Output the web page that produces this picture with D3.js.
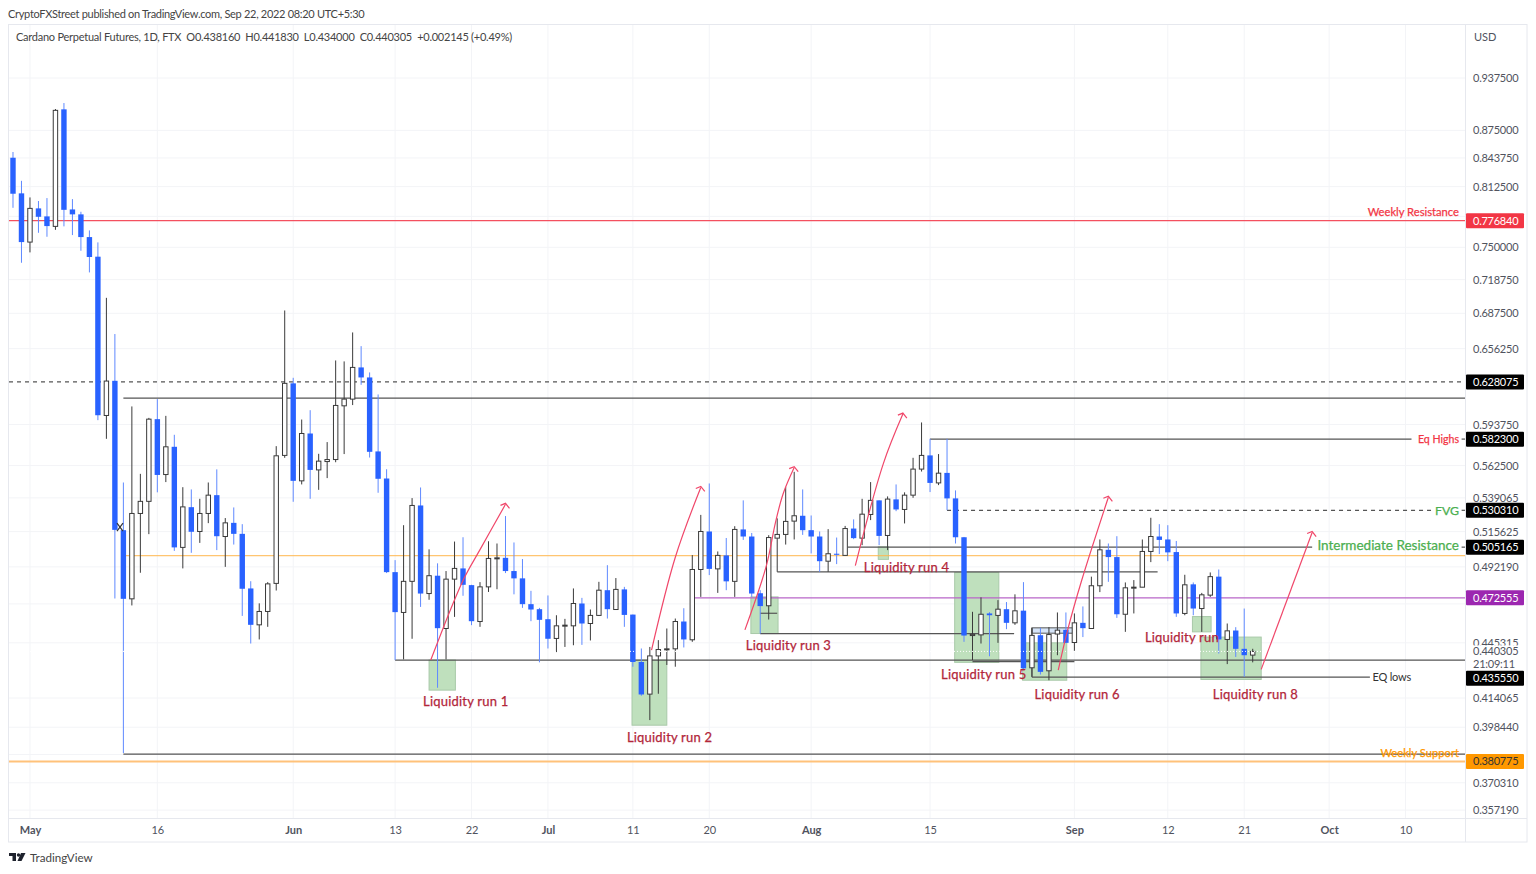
<!DOCTYPE html>
<html>
<head>
<meta charset="utf-8">
<style>
  html, body { margin: 0; padding: 0; background: #fff; }
  svg { display: block; font-family: Lato, "Open Sans", sans-serif; }
</style>
</head>
<body>
<svg width="1536" height="874"></svg>
<script src="https://cdn.jsdelivr.net/npm/d3@7"></script>
<script>
// daily candles, Apr 29 .. Sep 22 2022
const opens = [
  .8440,.8053,.7552,.7895,.7812,.7710,.8996,.7884,.7833,.7602,
  .7408,.6009,.6290,.5166,.4719,.5281,.5366,.5980,.5559,.5766,
  .5050,.5325,.5157,.5281,.5410,.5123,.5216,.5141,.4784,.4560,
  .4641,.4816,.5701,.6269,.5513,.5868,.5593,.5655,.5670,.6086,
  .6140,.6402,.6318,.5731,.5530,.4888,.4635,.4829,.5337,.4752,
  .4865,.4538,.4843,.4912,.4805,.4580,.4794,.4977,.4981,.4895,
  .4848,.4686,.4655,.4594,.4479,.4554,.4554,.4690,.4568,.4617,
  .4773,.4653,.4778,.4622,.4342,.4162,.4377,.4414,.4418,.4580,
  .4471,.4905,.5157,.4909,.4997,.4829,.5171,.5123,.4754,.4676,
  .5112,.5137,.5228,.5265,.5166,.5123,.4959,.5008,.4997,.5177,
  .5112,.5274,.5373,.5130,.5380,.5309,.5410,.5599,.5701,.5498,
  .5571,.5387,.5118,.4496,.4500,.4629,.4617,.4655,.4572,.4646,
  .4309,.4498,.4292,.4505,.4530,.4455,.4572,.4538,.4801,.5034,
  .4986,.4624,.4788,.4792,.5023,.5123,.5103,.5019,.4629,.4810,
  .4659,.4742,.4859,.4473,.4526,.4418,.43816
];
const highs = [
  .8504,.8187,.8010,.7972,.8003,.9000,.9071,.7992,.7860,.7669,
  .7549,.7017,.6690,.5501,.6081,.5564,.5990,.6140,.6006,.5858,
  .5467,.5451,.5384,.5501,.5597,.5249,.5323,.5207,.4830,.4691,
  .4824,.5771,.6901,.6315,.5977,.6051,.5713,.5802,.6461,.6453,
  .6704,.6584,.6360,.6178,.5598,.4966,.5200,.5389,.5465,.5037,
  .4945,.4895,.5089,.5118,.4807,.4824,.5091,.5076,.5263,.5083,
  .4973,.4769,.4663,.4740,.4618,.4596,.4784,.4725,.4653,.4826,
  .4933,.4850,.4794,.4622,.4420,.4429,.4469,.4538,.4598,.4661,
  .4999,.5271,.5494,.5023,.5113,.5193,.5373,.5147,.4773,.5132,
  .5247,.5469,.5579,.5451,.5267,.5157,.5173,.5116,.5195,.5240,
  .5384,.5504,.5373,.5401,.5487,.5430,.5683,.5954,.5827,.5711,
  .5827,.5444,.5120,.4639,.4728,.4637,.4711,.4699,.4747,.4824,
  .4540,.4542,.4546,.4635,.4635,.4629,.4672,.4859,.5103,.5076,
  .5125,.4822,.4837,.5103,.5251,.5207,.5200,.5093,.4871,.4822,
  .4756,.4886,.4905,.4568,.4546,.4659,.44183
];
const lows = [
  .7901,.7349,.7450,.7645,.7605,.7675,.7710,.7622,.7466,.7256,
  .5972,.5827,.4721,.3851,.4678,.4884,.5139,.5430,.5504,.5027,
  .4912,.5014,.5080,.5214,.5032,.4922,.5069,.4614,.4449,.4473,
  .4548,.4771,.5683,.5363,.5487,.5384,.5448,.5533,.5650,.5711,
  .6092,.6257,.5685,.5427,.4882,.4353,.4357,.4477,.4669,.4713,
  .4197,.4357,.4608,.4738,.4558,.4548,.4762,.4779,.4882,.4747,
  .4663,.4582,.4340,.4420,.4399,.4429,.4439,.4441,.4467,.4614,
  .4598,.4650,.4548,.4315,.4153,.4022,.4164,.4325,.4315,.4426,
  .4459,.4731,.4869,.4756,.4773,.4731,.5100,.4731,.4508,.4592,
  .4890,.5069,.5103,.5134,.5010,.4890,.4890,.4940,.4997,.5105,
  .5065,.5235,.5065,.5032,.5297,.5212,.5391,.5581,.5432,.5482,
  .5304,.5076,.4459,.4353,.4449,.4375,.4453,.4534,.4560,.4296,
  .4258,.4271,.4239,.4381,.4453,.4406,.4487,.4538,.4761,.4826,
  .4602,.4518,.4629,.4792,.4953,.5006,.4959,.4608,.4618,.4618,
  .4518,.4731,.4391,.4330,.4371,.4258,.4340
];
const closes = [
  .8049,.7552,.7895,.7808,.7713,.8984,.7880,.7833,.7602,.7405,
  .6011,.6288,.5168,.4719,.5281,.5366,.5980,.5556,.5766,.5050,
  .5327,.5155,.5281,.5410,.5125,.5216,.5141,.4782,.4560,.4641,
  .4813,.5698,.6269,.5513,.5868,.5593,.5658,.5670,.6089,.6140,
  .6402,.6318,.5728,.5528,.4888,.4637,.4829,.5337,.4752,.4865,
  .4540,.4843,.4912,.4807,.4582,.4794,.4977,.4981,.4895,.4848,
  .4686,.4653,.4590,.4477,.4554,.4558,.4690,.4568,.4617,.4773,
  .4655,.4778,.4620,.4342,.4160,.4377,.4414,.4418,.4580,.4473,
  .4905,.5157,.4909,.4997,.4829,.5171,.5123,.4752,.4674,.5116,
  .5137,.5226,.5265,.5166,.5123,.4959,.5008,.5001,.5177,.5112,
  .5276,.5373,.5127,.5382,.5309,.5410,.5599,.5701,.5498,.5569,
  .5387,.5118,.4496,.4503,.4624,.4618,.4655,.4572,.4645,.4306,
  .4497,.4286,.4502,.4528,.4453,.4572,.4540,.4801,.5034,.4986,
  .4624,.4788,.4792,.5023,.5123,.5100,.5017,.4629,.4807,.4659,
  .4744,.4859,.4473,.4524,.4418,.4381,.440305
];

// axis labels, as day number since Apr 29 and as prices
const dateTicks = [2, 17, 33, 45, 54, 63, 73, 82, 94, 108, 125, 136, 145, 155, 164];
const dateLabels = ["May", "16", "Jun", "13", "22", "Jul", "11", "20", "Aug", "15", "Sep", "12", "21", "Oct", "10"];
const monthLabels = ["May", "Jun", "Jul", "Aug", "Sep", "Oct"];
const priceTicks = [.9375, .875, .84375, .8125, .78125, .75, .71875, .6875, .65625, .59375, .5625,
  .539065, .515625, .49219, .46875, .445315, .414065, .39844, .384375, .37031, .35719];

// drawings: from day, to day, price
const blackLines = [
  [13, 171, .6148], [108, 164.7, .5825], [98.3, 153, .505165], [90, 134.8, .4890],
  [88, 117.9, .4508], [45, 171, .4353], [113, 125, .4344], [120, 159.8, .4256],
  [13, 171, .3846], [88, 90, .4630], [170.6, 171, .5825], [170.6, 171, .5303], [170.6, 171, .505165]
];
const dashedLines = [[-0.47, 171, .628075], [110, 167.1, .5303]];
// from day, to day, low price, high price
const zones = [
  [49, 52.1, .4184, .4353], [72.9, 77, .3995, .4353], [86.9, 90.1, .4508, .4731],
  [101.9, 103.1, .4971, .5054], [110.9, 116.1, .4340, .4886], [118.9, 124.1, .4239, .4453],
  [138.9, 141.1, .4518, .4610], [139.9, 147, .4243, .4487]
];
const rangeBox = [120, 124.8, .4510, .4542];
// trend arrows, points as [day, price]
const arrows = [
  [[49.2, .4353], [53, .4835], [55, .5035], [58, .5345]],
  [[75.2, .4410], [78, .4985], [81, .5465]],
  [[86.2, .4530], [88.7, .4925], [89.8, .5220], [90.7, .5420], [92, .5610]],
  [[99.2, .4930], [102.5, .5640], [104.8, .6020]],
  [[123.1, .4296], [124.2, .4528], [125.8, .4825], [129, .5395]],
  [[147, .4300], [153, .5150]]
];
const runLabels = [
  ["Liquidity run 1", 48.3, .4124], ["Liquidity run 2", 72.3, .3930], ["Liquidity run 3", 86.3, .4440],
  ["Liquidity run 4", 100.2, .4917], ["Liquidity run 5", 109.3, .4273], ["Liquidity run 6", 120.3, .4159],
  ["Liquidity run", 133.3, .4486], ["Liquidity run 8", 141.3, .4159]
];
const tags = [
  [.77684, "0.776840", "#f23645", "#fff"], [.628075, "0.628075", "#000", "#fff"],
  [.5823, "0.582300", "#000", "#fff"], [.53031, "0.530310", "#000", "#fff"],
  [.505165, "0.505165", "#000", "#fff"], [.472555, "0.472555", "#9c27b0", "#fff"],
  [.4250, "0.435550", "#000", "#fff"], [.380775, "0.380775", "#ff9800", "#333"]
];
const sideNotes = [
  ["Weekly Resistance", .7852, "#f23645"], ["Eq Highs", .5825, "#f23645"], ["FVG", .5303, "#4caf50"],
  ["Intermediate Resistance", .5062, "#4caf50"], ["Weekly Support", .3853, "#ff9800"]
];
const noteSizes = { "Weekly Resistance": 11.2, "Eq Highs": 10.6, "FVG": 12.3, "Intermediate Resistance": 13.5, "Weekly Support": 11.2 };

const plotLeft = 9, plotRight = 1465, plotTop = 24, plotBottom = 818, outerRight = 1527, outerBottom = 842;

const svg = d3.select("svg");
const x = d3.scaleLinear().domain([-0.47, 171]).range([plotLeft, plotRight]);
const y = d3.scaleLog().domain([1.0067, .3535]).range([plotTop, plotBottom]);

// grid
svg.append("g").selectAll("line").data(priceTicks).join("line")
  .attr("x1", plotLeft).attr("x2", plotRight).attr("y1", d => y(d)).attr("y2", d => y(d))
  .attr("stroke", "#f3f4f7");
svg.append("g").selectAll("line").data(dateTicks).join("line")
  .attr("x1", d => x(d)).attr("x2", d => x(d)).attr("y1", plotTop).attr("y2", plotBottom)
  .attr("stroke", "#f3f4f7");

// boxes sit under the candles
svg.append("g").selectAll("rect").data(zones).join("rect")
  .attr("x", d => x(d[0])).attr("width", d => x(d[1]) - x(d[0]))
  .attr("y", d => y(d[3])).attr("height", d => y(d[2]) - y(d[3]))
  .attr("fill", "#bfe0bd").attr("stroke", "#a9c9a9").attr("stroke-width", 1);
svg.append("rect")
  .attr("x", x(rangeBox[0])).attr("width", x(rangeBox[1]) - x(rangeBox[0]))
  .attr("y", y(rangeBox[3])).attr("height", y(rangeBox[2]) - y(rangeBox[3]))
  .attr("fill", "#d6e4f7").attr("stroke", "#555");

// level lines
function hline(from, to, price, color, width) {
  return svg.append("line")
    .attr("x1", x(from)).attr("x2", x(to)).attr("y1", y(price)).attr("y2", y(price))
    .attr("stroke", color).attr("stroke-width", width);
}
hline(-0.47, 171, .77684, "#f4505f", 1.2);
hline(13.3, 171, .4995, "#ffb74d", 1);
hline(80.3, 171, .472555, "#b866c8", 1.2);
hline(-0.47, 171, .380775, "#ffc27a", 2);
blackLines.forEach(d => hline(d[0], d[1], d[2], "#555", 1.2));
dashedLines.forEach(d => hline(d[0], d[1], d[2], "#555", 1.2).attr("stroke-dasharray", "4 4"));
svg.append("line").attr("x1", x(120)).attr("x2", x(120)).attr("y1", y(.4542)).attr("y2", y(.4256))
  .attr("stroke", "#555");

// candles
const idx = d3.range(opens.length);
const up = i => closes[i] >= opens[i];
svg.append("g").selectAll("line").data(idx).join("line")
  .attr("x1", i => x(i)).attr("x2", i => x(i))
  .attr("y1", i => y(highs[i])).attr("y2", i => y(lows[i]))
  .attr("stroke", i => up(i) ? "#3a3a3a" : "#5f89ff").attr("stroke-width", 1);
svg.append("g").selectAll("rect").data(idx).join("rect")
  .attr("x", i => x(i) - (up(i) ? 2.2 : 2.7))
  .attr("width", i => up(i) ? 4.4 : 5.4)
  .attr("y", i => y(Math.max(opens[i], closes[i])))
  .attr("height", i => Math.max(1, Math.abs(y(opens[i]) - y(closes[i]))))
  .attr("fill", i => up(i) ? "#fff" : "#2962ff")
  .attr("stroke", i => up(i) ? "#3a3a3a" : "none")
  .attr("stroke-width", 1);

// white dotted last price line, only visible over the boxes
hline(-0.47, 171, .440305, "#fff", 1).attr("stroke-dasharray", "1 2");

// cross mark beside the big May candle
const crossG = svg.append("g").attr("stroke", "#333").attr("stroke-width", 1.2)
  .attr("transform", `translate(${x(12.6)},${y(.5187)})`);
crossG.append("line").attr("x1", -3).attr("x2", 3).attr("y1", -4).attr("y2", 4);
crossG.append("line").attr("x1", 3).attr("x2", -3).attr("y1", -4).attr("y2", 4);

// arrows
const arrowLine = d3.line().x(d => x(d[0])).y(d => y(d[1])).curve(d3.curveCatmullRom);
arrows.forEach(pts => {
  svg.append("path").attr("d", arrowLine(pts)).attr("fill", "none")
    .attr("stroke", "#f0476a").attr("stroke-width", 1.2);
  const end = pts[pts.length - 1], ex = x(end[0]), ey = y(end[1]);
  svg.append("path").attr("d", `M${ex - 5},${ey + 1}L${ex},${ey - 1}L${ex + 4},${ey + 4}`)
    .attr("fill", "none").attr("stroke", "#f0476a").attr("stroke-width", 1.2);
});

// annotation text
svg.append("g").selectAll("text").data(runLabels).join("text")
  .attr("x", d => x(d[1])).attr("y", d => y(d[2])).attr("dy", "0.35em")
  .attr("fill", "#b2263a").attr("stroke", "#b2263a").attr("stroke-width", 0.25)
  .attr("font-size", 13).attr("letter-spacing", 0.2).text(d => d[0]);
svg.append("g").selectAll("text").data(sideNotes).join("text")
  .attr("x", 1459).attr("y", d => y(d[1])).attr("dy", "0.35em").attr("text-anchor", "end")
  .attr("fill", d => d[2]).attr("stroke", d => d[2]).attr("stroke-width", 0.25)
  .attr("font-size", d => noteSizes[d[0]]).text(d => d[0]);
svg.append("text").attr("x", x(160.1)).attr("y", y(.4256)).attr("dy", "0.35em")
  .attr("fill", "#333").attr("font-size", 11).attr("letter-spacing", -0.2).text("EQ lows");

// frame
svg.append("rect").attr("x", 8.5).attr("y", 24.5).attr("width", outerRight - 8.5).attr("height", outerBottom - 24.5)
  .attr("fill", "none").attr("stroke", "#e6e8ee");
svg.append("line").attr("x1", 8.5).attr("x2", outerRight).attr("y1", plotBottom + .5).attr("y2", plotBottom + .5).attr("stroke", "#e6e8ee");
svg.append("line").attr("x1", plotRight + .5).attr("x2", plotRight + .5).attr("y1", 24.5).attr("y2", outerBottom).attr("stroke", "#e6e8ee");

// axes; labels that fall under a price tag stay out of the way
const hiddenTicks = [.78125, .46875, .384375];
const yAxis = svg.append("g").attr("transform", `translate(${plotRight},0)`)
  .call(d3.axisRight(y).tickValues(priceTicks.filter(d => !hiddenTicks.includes(d))).tickSize(0).tickPadding(8).tickFormat(d3.format(".6f")));
yAxis.select(".domain").remove();
yAxis.selectAll("text").attr("fill", "#50535e").attr("font-size", 11).attr("letter-spacing", -0.25).attr("font-family", "Lato");
const xAxis = svg.append("g").attr("transform", `translate(0,${plotBottom})`)
  .call(d3.axisBottom(x).tickValues(dateTicks).tickSize(0).tickPadding(8).tickFormat((d, i) => dateLabels[i]));
xAxis.select(".domain").remove();
xAxis.selectAll("text").attr("fill", "#50535e").attr("font-size", 11).attr("font-family", "Lato")
  .attr("font-weight", (d, i) => monthLabels.includes(dateLabels[i]) ? 700 : 400);

// price tags
const tagG = svg.append("g").selectAll("g").data(tags).join("g")
  .attr("transform", d => `translate(${plotRight + 1},${y(d[0])})`);
tagG.append("rect").attr("x", 0).attr("y", -7.5).attr("width", 58).attr("height", 15).attr("rx", 1).attr("fill", d => d[2]);
tagG.append("text").attr("x", 7).attr("dy", "0.35em").attr("font-size", 11).attr("letter-spacing", -0.25)
  .attr("fill", d => d[3]).text(d => d[1]);

// plain last price and countdown, the white patch clips the tick label above
svg.append("rect").attr("x", 1467).attr("y", y(.440305) - 6).attr("width", 58).attr("height", 20).attr("fill", "#fff");
svg.append("text").attr("x", 1473).attr("y", y(.440305)).attr("dy", "0.35em").attr("font-size", 11).attr("letter-spacing", -0.25).attr("fill", "#50535e").text("0.440305");
svg.append("text").attr("x", 1473).attr("y", y(.440305) + 13).attr("dy", "0.35em").attr("font-size", 11).attr("letter-spacing", -0.25).attr("fill", "#50535e").text("21:09:11");

// header
svg.append("text").attr("x", 8).attr("y", 18).attr("font-size", 11).attr("letter-spacing", -0.3).attr("fill", "#444")
  .text("CryptoFXStreet published on TradingView.com, Sep 22, 2022 08:20 UTC+5:30");
svg.append("text").attr("x", 16).attr("y", 41).attr("font-size", 11).attr("letter-spacing", -0.25).attr("fill", "#444").attr("xml:space", "preserve")
  .text("Cardano Perpetual Futures, 1D, FTX  O0.438160  H0.441830  L0.434000  C0.440305  +0.002145 (+0.49%)");
svg.append("text").attr("x", 1474).attr("y", 41).attr("font-size", 11).attr("fill", "#50535e").text("USD");

// footer logo
const logo = svg.append("g").attr("fill", "#1e222d");
logo.append("path").attr("d", "M9,853H16V861H12.5V856H9Z");
logo.append("circle").attr("cx", 18.5).attr("cy", 855).attr("r", 1.7);
logo.append("path").attr("d", "M21,853H25.5L21.5,861H17.5Z");
svg.append("text").attr("x", 30).attr("y", 862).attr("font-size", 11.6).attr("fill", "#444").text("TradingView");
</script>
</body>
</html>
